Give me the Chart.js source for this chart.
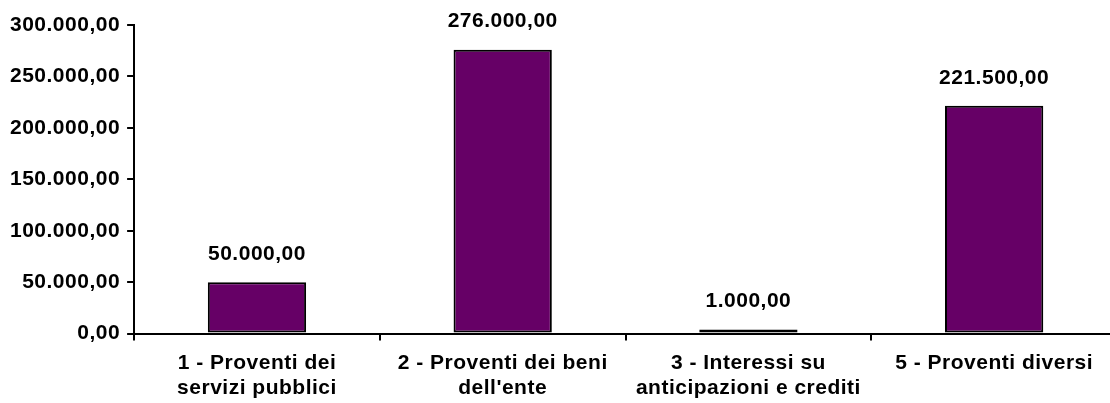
<!DOCTYPE html>
<html>
<head>
<meta charset="utf-8">
<script src="https://cdn.jsdelivr.net/npm/chart.js@4"></script>
<style>
    html, body { margin: 0; padding: 0; background: #fff; overflow: hidden; }
    #wrap { width: 1125px; height: 403px; position: relative; }
</style>
</head>
<body>
<div id="wrap"><canvas id="proventiChart"></canvas></div>
<script>
const categories = [
    ['1 - Proventi dei', 'servizi pubblici'],
    ['2 - Proventi dei beni', "dell'ente"],
    ['3 - Interessi su', 'anticipazioni e crediti'],
    '5 - Proventi diversi'
];
const values = [50000, 276000, 1000, 221500];
const yTicks = [0, 50000, 100000, 150000, 200000, 250000, 300000];

const BAR_COLOR = '#660066';
const FONT = { family: 'Arial, "Liberation Sans", sans-serif', size: 21, weight: 'bold' };

function formatIt(value) {
    const parts = Math.abs(value).toFixed(2).split('.');
    const intPart = parts[0].replace(/\B(?=(\d{3})+(?!\d))/g, '.');
    return (value < 0 ? '-' : '') + intPart + ',' + parts[1];
}

// wider text, like the original rendering
const spacingPlugin = {
    id: 'spacing',
    beforeLayout(chart) { chart.ctx.letterSpacing = '0.5px'; },
    beforeDraw(chart) { chart.ctx.letterSpacing = '0.5px'; }
};

const valueLabels = {
    id: 'valueLabels',
    afterDatasetsDraw(chart) {
        const ctx = chart.ctx;
        const meta = chart.getDatasetMeta(0);
        ctx.save();
        ctx.letterSpacing = '0.5px';
        ctx.font = 'bold 21px Arial, "Liberation Sans", sans-serif';
        ctx.fillStyle = '#000';
        ctx.textAlign = 'center';
        ctx.textBaseline = 'middle';
        meta.data.forEach((bar, i) => {
            ctx.fillText(formatIt(values[i]), bar.x, bar.y - 28);
        });
        ctx.restore();
    }
};

const ctx = document.getElementById('proventiChart').getContext('2d');
new Chart(ctx, {
    type: 'bar',
    data: {
        labels: categories,
        datasets: [{
            data: values,
            backgroundColor: BAR_COLOR,
            borderColor: '#000',
            borderWidth: 2,
            borderSkipped: false,
            minBarLength: 4,
            barPercentage: 0.8,
            categoryPercentage: 0.5
        }]
    },
    options: {
        responsive: true,
        maintainAspectRatio: false,
        animation: false,
        layout: {
            padding: { top: 25, right: 8, bottom: -8, left: 3 }
        },
        plugins: {
            legend: { display: false },
            tooltip: { enabled: false }
        },
        scales: {
            x: {
                grid: {
                    drawOnChartArea: false,
                    color: '#000',
                    lineWidth: 2,
                    tickLength: 7
                },
                border: { color: '#000', width: 2 },
                ticks: {
                    color: '#000',
                    font: { ...FONT, lineHeight: 1.2 },
                    padding: 10,
                    maxRotation: 0,
                    autoSkip: false
                }
            },
            y: {
                min: 0,
                max: 300000,
                afterBuildTicks(axis) {
                    axis.ticks = yTicks.map(v => ({ value: v }));
                },
                grid: {
                    drawOnChartArea: false,
                    color: '#000',
                    lineWidth: 2,
                    tickLength: 7
                },
                border: { color: '#000', width: 2 },
                ticks: {
                    color: '#000',
                    font: FONT,
                    padding: 7,
                    callback: function(value) {
                        return formatIt(value);
                    }
                }
            }
        }
    },
    plugins: [spacingPlugin, valueLabels]
});
</script>
</body>
</html>
